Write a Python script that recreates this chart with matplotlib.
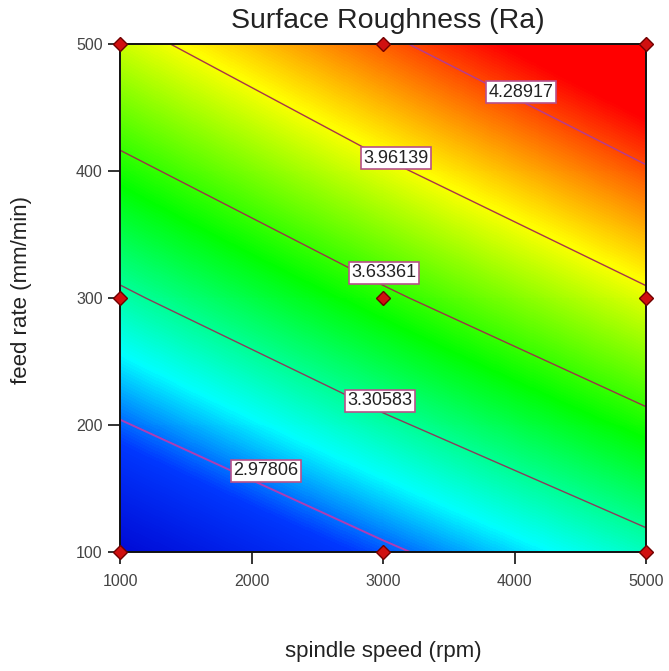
import numpy as np
import matplotlib
matplotlib.use("Agg")
import matplotlib.pyplot as plt
from matplotlib.colors import LinearSegmentedColormap

# design space
spindle_speed = [1000, 3000, 5000]   # rpm
feed_rate = [100, 300, 500]          # mm/min

# predicted Ra at the design points (rows = feed rate, cols = spindle speed)
ra_grid = [
    [2.656, 2.948, 3.240],
    [3.274, 3.601, 3.928],
    [3.892, 4.254, 4.616],
]

contour_levels = [2.97806, 3.30583, 3.63361, 3.96139, 4.28917]
label_spots = [(2110, 164), (2977, 219), (3008, 320), (3099, 410), (4049, 462)]

# design points run in the experiment
pts_speed = [1000, 3000, 5000, 1000, 3000, 5000, 1000, 3000, 5000]
pts_feed = [100, 100, 100, 300, 300, 300, 500, 500, 500]

plt.rcParams['font.family'] = ['Liberation Sans', 'DejaVu Sans']

fig = plt.figure(figsize=(6.69, 6.71), dpi=100)
ax = fig.add_axes([120 / 669, 1 - 552 / 671, 526 / 669, 508 / 671])

# Design-Expert style gradient: blue -> cyan -> green -> yellow -> red
vmin, vmax = 2.60, 4.62
stops = [(2.60, "#0000cc"), (2.92, "#0038ff"), (3.14, "#00ffff"),
         (3.55, "#00ff00"), (3.98, "#ffff00"), (4.42, "#ff0000"), (4.62, "#ff0000")]
cmap = LinearSegmentedColormap.from_list(
    "dx", [((v - vmin) / (vmax - vmin), c) for v, c in stops])

z = np.array(ra_grid)
xs = np.array(spindle_speed)
ys = np.array(feed_rate)
dx = xs[1] - xs[0]
dy = ys[1] - ys[0]
ax.imshow(z, origin="lower", cmap=cmap, vmin=vmin, vmax=vmax,
          extent=(xs[0] - dx / 2, xs[-1] + dx / 2, ys[0] - dy / 2, ys[-1] + dy / 2),
          interpolation="bilinear", interpolation_stage="data", aspect="auto")

line_cols = ["#b03cb4", "#8c3a5c", "#9a3448", "#a83448", "#b83c8c"]
ax.contour(xs, ys, z, levels=contour_levels, colors=line_cols,
           linewidths=[1.4, 1.0, 1.0, 1.0, 1.1])
for lvl, (lx, ly) in zip(contour_levels, label_spots):
    ax.text(lx, ly, f"{lvl:.5f}", ha="center", va="center", fontsize=13,
            color="#222222", zorder=6,
            bbox=dict(facecolor="white", edgecolor="#b8508a", linewidth=1.2, pad=1.8))

ax.plot(pts_speed, pts_feed, "D", color="#d01010", markeredgecolor="#700000",
        markersize=7, clip_on=False, zorder=7)

ax.set_xlim(1000, 5000)
ax.set_ylim(100, 500)
ax.set_xticks([1000, 2000, 3000, 4000, 5000])
ax.set_yticks([100, 200, 300, 400, 500])
ax.tick_params(direction="out", length=8.5, width=1.2, labelsize=11.5,
               labelcolor="#444444", color="#111111")
ax.tick_params(axis="x", pad=7)
ax.tick_params(axis="y", pad=4)
for s in ax.spines.values():
    s.set_linewidth(1.4)
    s.set_color("#111111")

fig.text(388 / 669, 1 - 21 / 671, "Surface Roughness (Ra)", ha="center", va="center",
         fontsize=20.5, color="#222222")
fig.text(383 / 669, 1 - 652 / 671, "spindle speed (rpm)", ha="center", va="center",
         fontsize=16, color="#222222")
fig.text(22 / 669, 1 - 290 / 671, "feed rate (mm/min)", ha="center", va="center",
         rotation=90, fontsize=16, color="#222222")

fig.savefig("out.png", dpi=100, facecolor="white")
